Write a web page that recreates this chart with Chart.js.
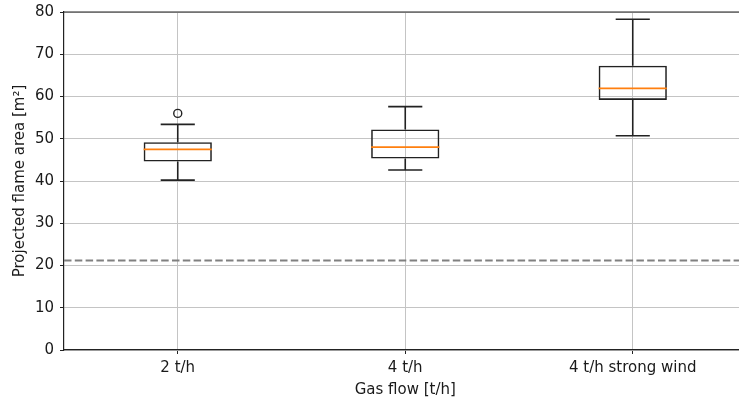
<!DOCTYPE html>
<html>
<head>
<meta charset="utf-8">
<script src="https://cdn.jsdelivr.net/npm/chart.js@4/dist/chart.umd.min.js"></script>
<style>
  html, body { margin: 0; padding: 0; background: #fff; overflow: hidden; }
  #wrap { width: 748px; height: 399px; }
</style>
</head>
<body>
<div id="wrap"><canvas id="c" width="748" height="399"></canvas></div>
<script>
// Box-plot statistics per gas-flow condition (m²)
const categories = ['2 t/h', '4 t/h', '4 t/h strong wind'];
const q1 = [44.6, 45.3, 59.2];
const q3 = [49.2, 52.2, 67.3];
const medians = [47.5, 48.0, 61.9];
const whiskerLow = [40.2, 42.6, 50.7];
const whiskerHigh = [53.4, 57.6, 78.3];
const outliers = [[56.0], [], []];
const referenceLevel = 21.2;
const yTicks = [0, 10, 20, 30, 40, 50, 60, 70, 80];

Chart.defaults.font.family = 'DejaVu Sans';
Chart.defaults.font.size = 15;
Chart.defaults.color = '#1a1a1a';

// Whiskers, caps, medians, fliers and the dashed reference line
const boxExtras = {
  id: 'boxExtras',
  afterDatasetsDraw(chart) {
    const ctx = chart.ctx;
    const xs = chart.scales.x, ys = chart.scales.y;
    const area = chart.chartArea;
    const unit = xs.getPixelForValue(1) - xs.getPixelForValue(0);
    const capHalf = unit * 0.075;
    const boxHalf = unit * 0.15;

    ctx.save();
    // reference line
    ctx.strokeStyle = '#808080';
    ctx.lineWidth = 2;
    ctx.setLineDash([7.5, 3.3]);
    const yr = ys.getPixelForValue(referenceLevel);
    ctx.beginPath();
    ctx.moveTo(area.left, yr);
    ctx.lineTo(area.right, yr);
    ctx.stroke();
    ctx.setLineDash([]);

    categories.forEach((c, i) => {
      const cx = xs.getPixelForValue(i);
      ctx.strokeStyle = '#222';
      ctx.lineWidth = 1.6;
      ctx.beginPath();
      ctx.moveTo(cx, ys.getPixelForValue(q3[i]));
      ctx.lineTo(cx, ys.getPixelForValue(whiskerHigh[i]));
      ctx.moveTo(cx, ys.getPixelForValue(q1[i]));
      ctx.lineTo(cx, ys.getPixelForValue(whiskerLow[i]));
      const yh = ys.getPixelForValue(whiskerHigh[i]);
      const yl = ys.getPixelForValue(whiskerLow[i]);
      ctx.moveTo(cx - capHalf, yh); ctx.lineTo(cx + capHalf, yh);
      ctx.moveTo(cx - capHalf, yl); ctx.lineTo(cx + capHalf, yl);
      ctx.stroke();

      ctx.strokeStyle = '#ff7f0e';
      ctx.lineWidth = 1.8;
      ctx.beginPath();
      const ym = ys.getPixelForValue(medians[i]);
      ctx.moveTo(cx - boxHalf, ym); ctx.lineTo(cx + boxHalf, ym);
      ctx.stroke();

      ctx.strokeStyle = '#222';
      ctx.lineWidth = 1.4;
      outliers[i].forEach(v => {
        ctx.beginPath();
        ctx.arc(cx, ys.getPixelForValue(v), 4, 0, Math.PI * 2);
        ctx.stroke();
      });
    });

    // top spine
    ctx.strokeStyle = '#222';
    ctx.lineWidth = 1.2;
    ctx.beginPath();
    ctx.moveTo(area.left, area.top);
    ctx.lineTo(area.right, area.top);
    ctx.stroke();
    ctx.restore();
  }
};

new Chart(document.getElementById('c'), {
  type: 'bar',
  data: {
    labels: categories,
    datasets: [{
      data: categories.map((c, i) => [q1[i], q3[i]]),
      backgroundColor: 'rgba(0,0,0,0)',
      borderColor: '#222',
      borderWidth: 1.6,
      borderSkipped: false,
      barPercentage: 0.3,
      categoryPercentage: 1.0
    }]
  },
  options: {
    responsive: false,
    animation: false,
    devicePixelRatio: 1,
    layout: { padding: { top: 12, right: 1.5, left: 0, bottom: 0 } },
    plugins: { legend: { display: false }, tooltip: { enabled: false } },
    scales: {
      x: {
        type: 'category',
        offset: true,
        grid: { offset: false, color: '#c4c4c4', lineWidth: 1, tickColor: '#222', tickLength: 4, tickWidth: 1 },
        border: { color: '#222', width: 1.2 },
        ticks: { padding: 5, maxRotation: 0 },
        title: { display: true, text: 'Gas flow [t/h]', padding: { top: 0, bottom: 0 } },
        afterFit(s) { s.height = 49; s.paddingLeft = 0; s.paddingRight = 0; }
      },
      y: {
        min: 0, max: 80,
        afterBuildTicks(s) { s.ticks = yTicks.map(v => ({ value: v })); },
        grid: { color: '#c4c4c4', lineWidth: 1, tickColor: '#222', tickLength: 4, tickWidth: 1 },
        border: { color: '#222', width: 1.2 },
        ticks: { padding: 6 },
        title: { display: true, text: 'Projected flame area [m²]', padding: { top: 11, bottom: 0 } },
        afterFit(s) { s.width = 64; s.paddingTop = 0; s.paddingBottom = 0; }
      }
    }
  },
  plugins: [boxExtras]
});
</script>
</body>
</html>
